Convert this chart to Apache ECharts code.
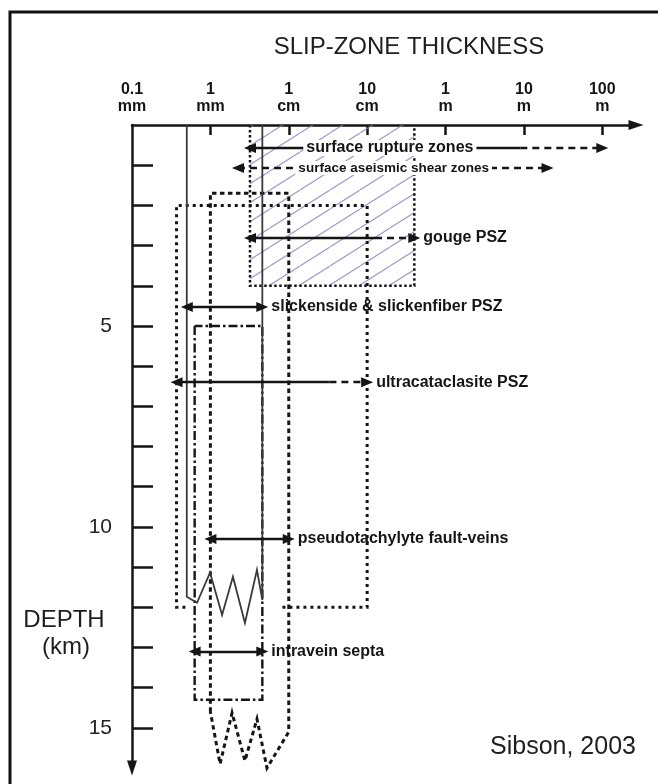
<!DOCTYPE html>
<html>
<head>
<meta charset="utf-8">
<script src="https://cdn.jsdelivr.net/npm/echarts@6/dist/echarts.min.js"></script>
<style>
  html, body { margin: 0; padding: 0; background: #ffffff; }
  #chart { width: 658px; height: 784px; }
</style>
</head>
<body>
<div id="chart"></div>
<script>
// ---- Axis ticks -------------------------------------------------------
// Slip-zone thickness ticks (mm) and their two-line labels
const thicknessTicksMm = [0.1, 1, 10, 100, 1000, 10000, 100000];
const thicknessNumbers = ['0.1', '1', '1', '10', '1', '10', '100'];
const thicknessUnits = ['mm', 'mm', 'cm', 'cm', 'm', 'm', 'm'];
// Depth ticks (km)
const depthTicksKm = [1, 2, 3, 4, 5, 6, 7, 8, 9, 10, 11, 12, 13, 14, 15];
const depthLabelsKm = [5, 10, 15];

// ---- Zone outlines: thickness (mm) and depth (km) vertices -------------
const gougeMm = [3.2, 3.2, 400, 400];
const gougeKm = [0, 4, 4, 0];

const slickensideMm = [0.5, 0.5, 0.675, 0.99, 1.41, 1.94, 2.76, 3.93, 4.6, 4.6];
const slickensideKm = [0, 11.74, 11.89, 11.14, 12.19, 11.24, 12.39, 11.07, 11.82, 0];

const ultracataclasiteMm = [8.3, 100, 100, 0.37, 0.37, 0.48];
const ultracataclasiteKm = [12, 12, 2, 2, 12, 12];

const pseudotachylyteMm = [1, 1, 10, 10, 5.27, 3.93, 2.76, 1.89, 1.33, 1];
const pseudotachylyteKm = [14.6, 1.7, 1.7, 15.1, 16.0, 14.78, 15.82, 14.63, 15.9, 14.6];

const intraveinMm = [0.63, 0.63, 4.6, 4.6, 0.63];
const intraveinKm = [5, 14.3, 14.3, 5, 5];

// ---- Thickness ranges (arrows) -----------------------------------------
const rangeNames = [
  'surface rupture zones',
  'surface aseismic shear zones',
  'gouge PSZ',
  'slickenside & slickenfiber PSZ',
  'ultracataclasite PSZ',
  'pseudotachylyte fault-veins',
  'intravein septa'
];
const rangeDepthKm = [0.57, 1.07, 2.81, 4.53, 6.4, 10.3, 13.1];
const rangeFromMm = [3.2, 2.25, 3.2, 0.5, 0.37, 1, 0.63];
const rangeToMm = [100000, 20000, 400, 4.6, 100, 10, 4.6];
// thickness where the range turns uncertain (dashed); null = fully certain, 0 = fully uncertain
const rangeDashFromMm = [9000, 0, 126, null, 33, null, null];

// ---- Drawing ----------------------------------------------------------
const FONT = "'Liberation Sans', Arial, Helvetica, sans-serif";
const INK = '#151515';
const lg = mm => Math.log10(mm);

function toPoints(mmArr, kmArr) {
  return mmArr.map((m, i) => [lg(m), kmArr[i]]);
}

// Diagonal hatching used to fill the gouge field
function hatchPattern() {
  const w = 30, h = 19;
  const c = document.createElement('canvas');
  c.width = w; c.height = h;
  const g = c.getContext('2d');
  g.strokeStyle = 'rgba(138,120,184,0.8)';
  g.lineWidth = 1.1;
  for (const dx of [-w, 0, w]) {
    g.beginPath();
    g.moveTo(dx, h);
    g.lineTo(dx + w, 0);
    g.stroke();
  }
  return c;
}

function outlineSeries(name, mmArr, kmArr, lineStyle, extra) {
  return Object.assign({
    name: name,
    type: 'line',
    data: toPoints(mmArr, kmArr),
    symbol: 'none',
    silent: true,
    animation: false,
    clip: false,
    lineStyle: Object.assign({ color: INK, cap: 'butt', join: 'miter' }, lineStyle)
  }, extra || {});
}

// Text beside the right end of a range arrow
const sideLabel = {
  show: true, position: 'end', distance: 9,
  color: INK, fontFamily: FONT, fontWeight: 'bold', fontSize: 16
};
// Which ranges carry their name on the line itself (fraction of arrow length)
const inlineLabelAt = { 0: 0.397, 1: 0.503 };
const inlineLabelSize = { 0: 16, 1: 13.5 };

const arrowLines = [];
const inlineLabels = [];
const headSize = [10, 12];
const solidStyle = { type: 'solid', width: 2.3, color: INK };
const dashStyle = { type: [7, 5], width: 2.3, color: INK };

rangeNames.forEach((name, i) => {
  const d = rangeDepthKm[i];
  const a = lg(rangeFromMm[i]);
  const b = lg(rangeToMm[i]);
  const dash = rangeDashFromMm[i];
  const hasInline = inlineLabelAt[i] !== undefined;
  const lbl = hasInline ? { show: false } : Object.assign({ formatter: name }, sideLabel);
  if (dash === null) {
    arrowLines.push([
      { coord: [a, d], symbol: 'triangle', symbolSize: headSize, lineStyle: solidStyle, label: lbl },
      { coord: [b, d], symbol: 'triangle', symbolSize: headSize }
    ]);
  } else if (dash === 0) {
    arrowLines.push([
      { coord: [a, d], symbol: 'triangle', symbolSize: headSize, lineStyle: dashStyle, label: lbl },
      { coord: [b, d], symbol: 'triangle', symbolSize: headSize }
    ]);
  } else {
    const m = lg(dash);
    arrowLines.push([
      { coord: [a, d], symbol: 'triangle', symbolSize: headSize, lineStyle: solidStyle, label: { show: false } },
      { coord: [m, d], symbol: 'none' }
    ]);
    arrowLines.push([
      { coord: [m, d], symbol: 'none', lineStyle: dashStyle, label: lbl },
      { coord: [b, d], symbol: 'triangle', symbolSize: headSize }
    ]);
  }
  if (hasInline) {
    inlineLabels.push({
      coord: [a + (b - a) * inlineLabelAt[i], d],
      symbol: 'rect', symbolSize: 1,
      itemStyle: { color: 'rgba(0,0,0,0)' },
      label: {
        show: true, position: 'inside', formatter: name,
        color: INK, fontFamily: FONT, fontWeight: 'bold', fontSize: inlineLabelSize[i],
        backgroundColor: '#ffffff', padding: [0, 3]
      }
    });
  }
});

const chart = echarts.init(document.getElementById('chart'), null, { renderer: 'canvas' });

const option = {
  backgroundColor: '#ffffff',
  animation: false,
  grid: { left: 132, top: 125, width: 504, height: 643, containLabel: false },
  xAxis: {
    type: 'value',
    position: 'top',
    min: -1,
    max: 5.43,
    interval: 1,
    splitLine: { show: false },
    axisLine: {
      show: true, onZero: false,
      symbol: ['none', 'triangle'], symbolSize: [10, 15],
      lineStyle: { color: INK, width: 2.5 }
    },
    axisTick: {
      show: true, inside: true, length: 10,
      customValues: thicknessTicksMm.slice(1).map(lg),
      lineStyle: { color: INK, width: 2.5 }
    },
    axisLabel: {
      show: true, margin: 10,
      customValues: thicknessTicksMm.map(lg),
      formatter: v => {
        const k = Math.round(v) + 1;
        return '{n|' + thicknessNumbers[k] + '}\n{u|' + thicknessUnits[k] + '}';
      },
      rich: {
        n: { fontFamily: FONT, fontWeight: 'bold', fontSize: 16, lineHeight: 17, color: INK },
        u: { fontFamily: FONT, fontWeight: 'bold', fontSize: 16, lineHeight: 17, color: INK }
      }
    }
  },
  yAxis: {
    type: 'value',
    inverse: true,
    min: 0,
    max: 16,
    interval: 1,
    splitLine: { show: false },
    axisLine: {
      show: true, onZero: false,
      symbol: ['triangle', 'none'], symbolSize: [10, 15],
      lineStyle: { color: INK, width: 2.5 }
    },
    axisTick: {
      show: true, inside: true, length: 21,
      customValues: depthTicksKm,
      lineStyle: { color: INK, width: 2.5 }
    },
    axisLabel: {
      show: true, margin: 20,
      customValues: depthLabelsKm,
      fontFamily: FONT, fontSize: 21, color: '#222222'
    }
  },
  graphic: [
    {
      type: 'rect', silent: true, z: 100,
      shape: { x: 10, y: 12, width: 720, height: 820 },
      style: { fill: 'none', stroke: '#111111', lineWidth: 3 }
    },
    {
      type: 'text', silent: true, x: 409, y: 47,
      style: { text: 'SLIP-ZONE THICKNESS', font: '24px ' + FONT, fill: '#1e1e1e', align: 'center', verticalAlign: 'middle' }
    },
    {
      type: 'text', silent: true, x: 64, y: 620,
      style: { text: 'DEPTH', font: '24px ' + FONT, fill: '#1e1e1e', align: 'center', verticalAlign: 'middle' }
    },
    {
      type: 'text', silent: true, x: 66, y: 647,
      style: { text: '(km)', font: '24px ' + FONT, fill: '#1e1e1e', align: 'center', verticalAlign: 'middle' }
    },
    {
      type: 'text', silent: true, x: 563, y: 747,
      style: { text: 'Sibson, 2003', font: '25px ' + FONT, fill: '#1e1e1e', align: 'center', verticalAlign: 'middle' }
    }
  ],
  series: [
    outlineSeries('gouge PSZ', gougeMm, gougeKm, { width: 2.5, type: [2.5, 2.5] }, {
      z: 2,
      markArea: {
        silent: true,
        itemStyle: { color: { image: hatchPattern(), repeat: 'repeat' } },
        data: [[
          { coord: [lg(gougeMm[0]), gougeKm[0]] },
          { coord: [lg(gougeMm[2]), gougeKm[1]] }
        ]]
      }
    }),
    outlineSeries('ultracataclasite PSZ', ultracataclasiteMm, ultracataclasiteKm, { width: 3, type: [3, 4] }, { z: 3 }),
    outlineSeries('pseudotachylyte fault-veins', pseudotachylyteMm, pseudotachylyteKm, { width: 3, type: [4.5, 3.5] }, { z: 3 }),
    outlineSeries('intravein septa', intraveinMm, intraveinKm, { width: 2.4, type: [9, 3, 2.5, 3] }, { z: 4 }),
    outlineSeries('slickenside & slickenfiber PSZ', slickensideMm, slickensideKm, { width: 1.8, color: '#3a3a3a' }, { z: 4 }),
    {
      name: 'ranges',
      type: 'line',
      data: [],
      silent: true,
      animation: false,
      z: 6,
      markLine: {
        silent: true,
        animation: false,
        precision: 6,
        itemStyle: { color: INK },
        data: arrowLines
      },
      markPoint: {
        silent: true,
        animation: false,
        data: inlineLabels
      }
    }
  ]
};

chart.setOption(option);
</script>
</body>
</html>
